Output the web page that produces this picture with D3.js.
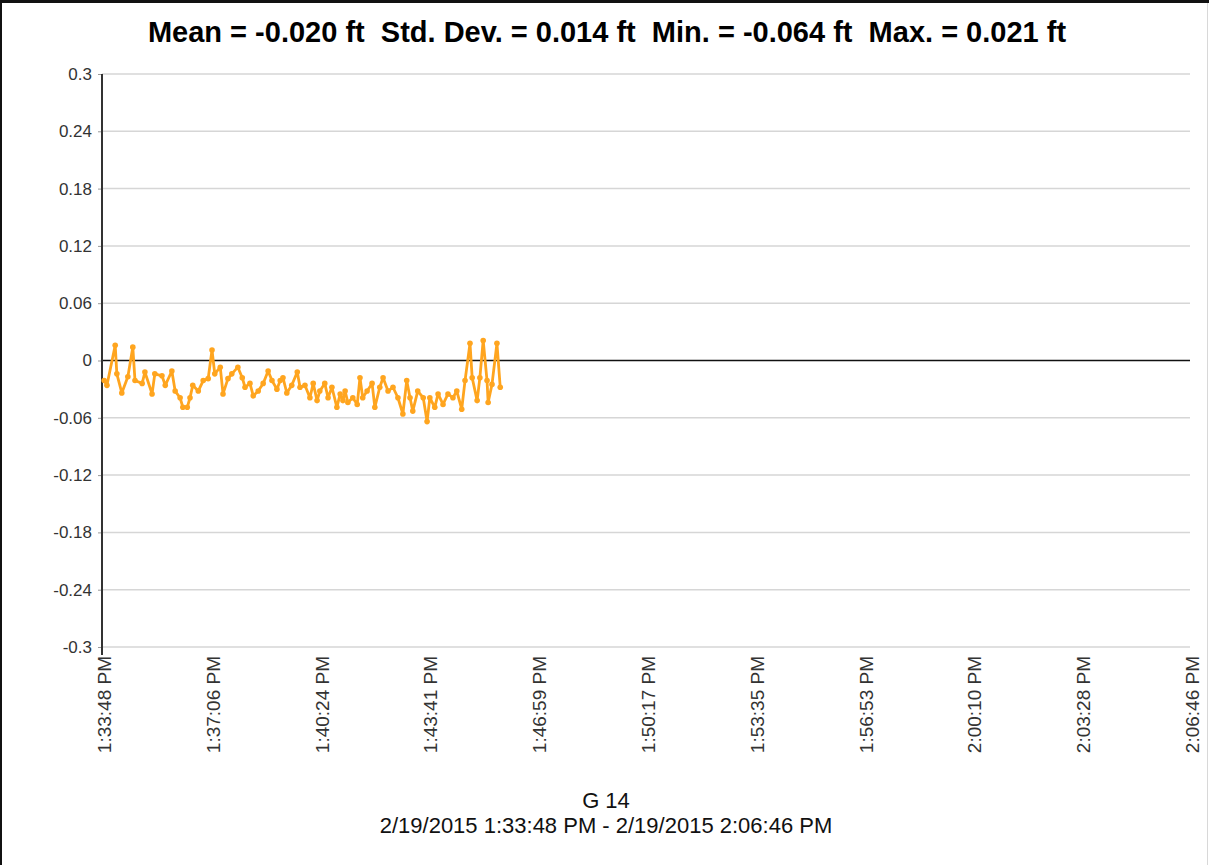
<!DOCTYPE html>
<html>
<head>
<meta charset="utf-8">
<script src="https://cdn.jsdelivr.net/npm/d3@7"></script>
<style>
  body { margin: 0; background: #fff; }
  svg { display: block; font-family: "Liberation Sans", Arial, sans-serif; }
</style>
</head>
<body>
<div id="chart"></div>
<script>
// chart values
const titleText = 'Mean = -0.020 ft  Std. Dev. = 0.014 ft  Min. = -0.064 ft  Max. = 0.021 ft';
const seriesName = 'G 14';
const rangeText = '2/19/2015 1:33:48 PM - 2/19/2015 2:06:46 PM';
const startTime = '2/19/2015 1:33:48 PM';
const endTime = '2/19/2015 2:06:46 PM';

const yTicks = [0.3, 0.24, 0.18, 0.12, 0.06, 0, -0.06, -0.12, -0.18, -0.24, -0.3];
const yTickLabels = ['0.3', '0.24', '0.18', '0.12', '0.06', '0', '-0.06', '-0.12', '-0.18', '-0.24', '-0.3'];
const xTickLabels = ['1:33:48 PM', '1:37:06 PM', '1:40:24 PM', '1:43:41 PM', '1:46:59 PM', '1:50:17 PM',
  '1:53:35 PM', '1:56:53 PM', '2:00:10 PM', '2:03:28 PM', '2:06:46 PM'];

// seconds after start time
const elapsedSec = [4, 9, 24, 27, 36, 47, 56, 60, 73, 78, 91, 96, 109, 115, 127, 133, 142, 147, 155, 160,
  165, 175, 184, 193, 200, 205, 215, 220, 229,
  236, 247, 255, 260, 269, 275, 284, 293, 302, 309, 318, 324, 329, 336, 345, 355, 360, 369, 378, 384,
  391, 396, 405, 411, 418, 427, 433, 438, 442, 447, 456, 464, 469, 474,
  482, 491, 496, 505, 511, 520, 529, 538, 547, 554, 560, 565, 574, 584, 591, 596, 605, 611, 620, 629,
  638, 645, 654, 660, 669, 673, 682, 687, 693, 700, 702, 709, 718, 724];
// deviation in ft
const deviation = [-0.021, -0.026, 0.016, -0.014, -0.034, -0.017, 0.014, -0.021, -0.024, -0.012, -0.035, -0.014,
  -0.016, -0.026, -0.011, -0.032, -0.039, -0.049, -0.049, -0.039, -0.026, -0.032, -0.021, -0.019, 0.011,
  -0.014, -0.007, -0.035, -0.019,
  -0.014, -0.007, -0.018, -0.028, -0.024, -0.037, -0.032, -0.024, -0.011, -0.021, -0.030, -0.021, -0.018,
  -0.034, -0.026, -0.012, -0.028, -0.026, -0.039, -0.024, -0.042, -0.032, -0.024, -0.039, -0.028, -0.049,
  -0.035, -0.042, -0.032, -0.044, -0.039, -0.046, -0.018, -0.039,
  -0.032, -0.024, -0.049, -0.028, -0.018, -0.032, -0.028, -0.039, -0.056, -0.021, -0.039, -0.053, -0.032,
  -0.039, -0.064, -0.039, -0.049, -0.035, -0.046, -0.035, -0.039, -0.032, -0.051, -0.021, 0.018, -0.018,
  -0.042, -0.018, 0.021, -0.021, -0.044, -0.025, 0.018, -0.028];

const width = 1209;
const height = 865;
const plotLeft = 102, plotRight = 1190, plotTop = 74, plotBottom = 647;

const parseTime = d3.timeParse('%m/%d/%Y %I:%M:%S %p');
const t0 = parseTime(startTime);
const t1 = parseTime(endTime);
const dayPrefix = '2/19/2015 ';
const xTickTimes = xTickLabels.map(s => parseTime(dayPrefix + s));

const data = elapsedSec.map((s, i) => ({ t: new Date(t0.getTime() + s * 1000), v: deviation[i] }));

const svg = d3.select('#chart').append('svg')
  .attr('width', width)
  .attr('height', height);

// frame
svg.append('rect').attr('x', 0).attr('y', 0).attr('width', width).attr('height', height).attr('fill', '#fff');
svg.append('line').attr('x1', 0).attr('x2', width).attr('y1', 1.5).attr('y2', 1.5)
  .attr('stroke', '#111').attr('stroke-width', 3);
svg.append('line').attr('x1', 1).attr('x2', 1).attr('y1', 0).attr('y2', height)
  .attr('stroke', '#111').attr('stroke-width', 2);
svg.append('line').attr('x1', width - 1.5).attr('x2', width - 1.5).attr('y1', 3).attr('y2', height)
  .attr('stroke', '#d8d8d8').attr('stroke-width', 1);

const xScale = d3.scaleTime().domain([t0, t1]).range([plotLeft, plotRight]);
const yScale = d3.scaleLinear().domain([-0.3, 0.3]).range([plotBottom, plotTop]);

// gridlines
svg.append('g').selectAll('line')
  .data(yTicks.filter(d => d !== 0))
  .enter().append('line')
  .attr('x1', plotLeft).attr('x2', plotRight)
  .attr('y1', d => yScale(d)).attr('y2', d => yScale(d))
  .attr('stroke', '#d6d6d6').attr('stroke-width', 1.5);

// zero line
svg.append('line')
  .attr('x1', plotLeft).attr('x2', plotRight)
  .attr('y1', yScale(0)).attr('y2', yScale(0))
  .attr('stroke', '#111').attr('stroke-width', 1.5);

// y axis
const yAxis = d3.axisLeft(yScale)
  .tickValues(yTicks)
  .tickSize(4)
  .tickPadding(6)
  .tickFormat((d, i) => yTickLabels[i]);
const yG = svg.append('g')
  .attr('transform', 'translate(' + plotLeft + ',0)')
  .call(yAxis);
yG.select('.domain').remove();
yG.selectAll('.tick line').attr('stroke', '#999');
yG.selectAll('text').attr('font-size', 17).attr('fill', '#333')
  .attr('font-family', '"Liberation Sans", Arial, sans-serif');
svg.append('line')
  .attr('x1', plotLeft).attr('x2', plotLeft)
  .attr('y1', plotTop).attr('y2', plotBottom + 8)
  .attr('stroke', '#333').attr('stroke-width', 2);

// x axis
const xAxis = d3.axisBottom(xScale)
  .tickValues(xTickTimes)
  .tickSize(0)
  .tickFormat((d, i) => xTickLabels[i]);
const xG = svg.append('g')
  .attr('transform', 'translate(0,' + plotBottom + ')')
  .call(xAxis);
xG.select('.domain').remove();
xG.selectAll('text')
  .attr('font-size', 19).attr('fill', '#333')
  .attr('font-family', '"Liberation Sans", Arial, sans-serif')
  .attr('text-anchor', 'end')
  .attr('transform', 'rotate(-90)')
  .attr('x', -9)
  .attr('y', 2)
  .attr('dy', '0.35em');

// series
const line = d3.line()
  .x(d => xScale(d.t))
  .y(d => yScale(d.v));

svg.append('path')
  .datum(data)
  .attr('d', line)
  .attr('fill', 'none')
  .attr('stroke', '#FFA51F')
  .attr('stroke-width', 2.8)
  .attr('stroke-linejoin', 'round');

svg.append('g').selectAll('circle')
  .data(data)
  .enter().append('circle')
  .attr('cx', d => xScale(d.t))
  .attr('cy', d => yScale(d.v))
  .attr('r', 2.8)
  .attr('fill', '#FFA51F');

// title
svg.append('text')
  .attr('x', 607).attr('y', 42)
  .attr('text-anchor', 'middle')
  .attr('font-size', 29).attr('font-weight', 'bold')
  .style('white-space', 'pre')
  .text(titleText);

// bottom caption
svg.append('text')
  .attr('x', 606).attr('y', 808)
  .attr('text-anchor', 'middle')
  .attr('font-size', 22).attr('fill', '#111')
  .text(seriesName);
svg.append('text')
  .attr('x', 606).attr('y', 833)
  .attr('text-anchor', 'middle')
  .attr('font-size', 22).attr('fill', '#111')
  .text(rangeText);
</script>
</body>
</html>
